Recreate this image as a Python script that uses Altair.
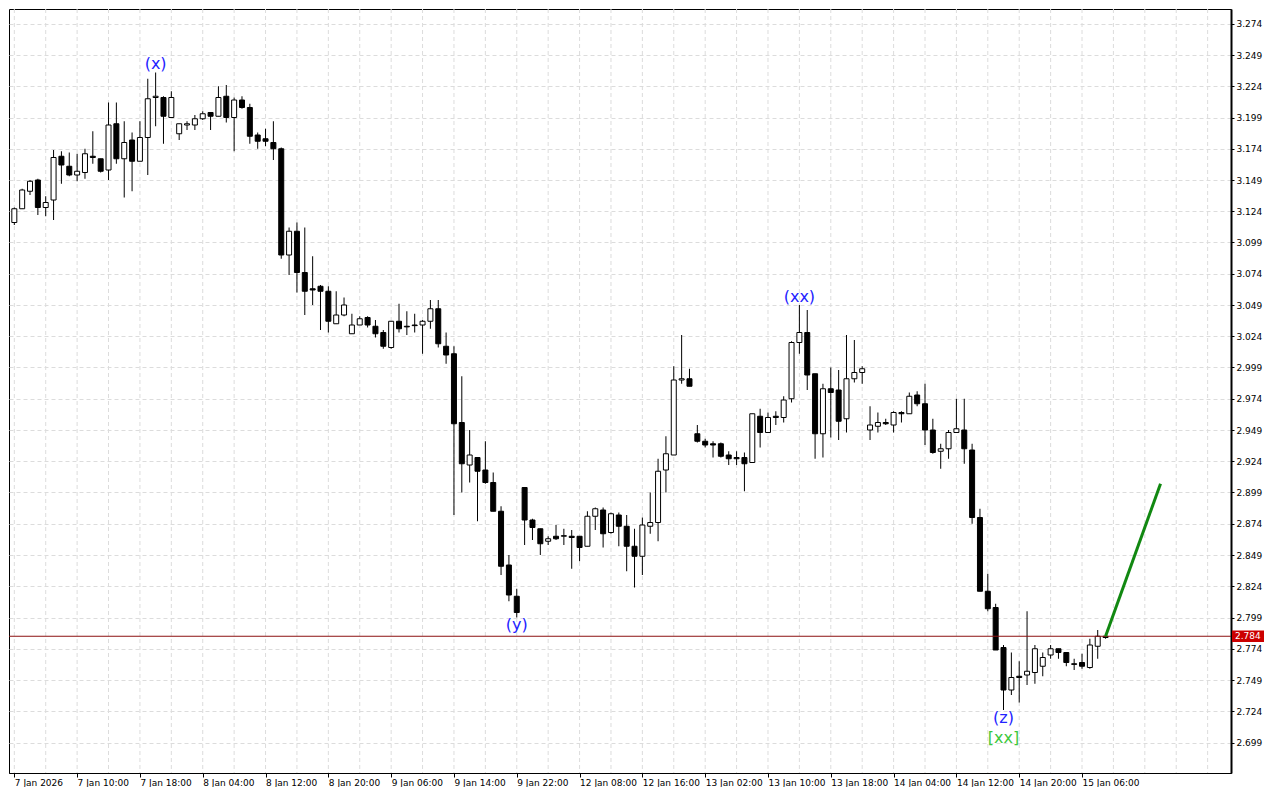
import json
import altair as alt
import pandas as pd

# ---------------- data ----------------
opens = [3.115, 3.126, 3.140, 3.149, 3.127, 3.133, 3.168, 3.160, 3.153, 3.155,
         3.168, 3.166, 3.157, 3.194, 3.166, 3.181, 3.164, 3.183, 3.215, 3.215,
         3.199, 3.186, 3.193, 3.193, 3.198, 3.203, 3.200, 3.216, 3.199, 3.213,
         3.207, 3.185, 3.182, 3.179, 3.174, 3.089, 3.108, 3.075, 3.062, 3.064,
         3.060, 3.034, 3.041, 3.026, 3.033, 3.039, 3.032, 3.027, 3.015, 3.036,
         3.032, 3.033, 3.033, 3.036, 3.046, 3.016, 3.010, 2.955, 2.921, 2.927,
         2.917, 2.907, 2.884, 2.841, 2.816, 2.903, 2.877, 2.870, 2.860, 2.864,
         2.864, 2.864, 2.864, 2.856, 2.880, 2.885, 2.867, 2.881, 2.872, 2.856,
         2.848, 2.872, 2.875, 2.917, 2.929, 2.989, 2.990, 2.946, 2.940, 2.938,
         2.938, 2.929, 2.927, 2.927, 2.923, 2.960, 2.947, 2.960, 2.959, 2.974,
         3.019, 3.027, 2.994, 2.946, 2.982, 2.981, 2.958, 2.990, 2.995, 2.949,
         2.952, 2.955, 2.953, 2.963, 2.962, 2.977, 2.970, 2.949, 2.932, 2.934,
         2.947, 2.949, 2.933, 2.879, 2.820, 2.807, 2.775, 2.741, 2.752, 2.753,
         2.755, 2.760, 2.769, 2.774, 2.771, 2.762, 2.763, 2.759, 2.776, 2.783]
highs = [3.127, 3.142, 3.149, 3.150, 3.136, 3.173, 3.172, 3.171, 3.170, 3.174,
         3.188, 3.166, 3.211, 3.211, 3.196, 3.187, 3.196, 3.230, 3.235, 3.216,
         3.220, 3.194, 3.196, 3.201, 3.204, 3.203, 3.224, 3.225, 3.215, 3.216,
         3.210, 3.187, 3.190, 3.196, 3.175, 3.111, 3.115, 3.111, 3.088, 3.065,
         3.064, 3.060, 3.055, 3.042, 3.040, 3.040, 3.037, 3.029, 3.036, 3.050,
         3.044, 3.042, 3.037, 3.053, 3.053, 3.027, 3.016, 2.992, 2.949, 2.927,
         2.940, 2.915, 2.888, 2.849, 2.822, 2.903, 2.878, 2.870, 2.864, 2.873,
         2.870, 2.869, 2.864, 2.884, 2.887, 2.887, 2.883, 2.883, 2.881, 2.870,
         2.879, 2.899, 2.926, 2.944, 3.000, 3.025, 2.998, 2.953, 2.942, 2.940,
         2.939, 2.932, 2.932, 2.931, 2.962, 2.966, 2.963, 2.964, 2.976, 3.020,
         3.049, 3.045, 2.994, 2.986, 2.999, 2.997, 3.025, 3.021, 3.000, 2.968,
         2.963, 2.958, 2.964, 2.964, 2.979, 2.980, 2.986, 2.958, 2.938, 2.949,
         2.974, 2.974, 2.938, 2.886, 2.834, 2.810, 2.777, 2.771, 2.764, 2.804,
         2.777, 2.771, 2.777, 2.774, 2.771, 2.766, 2.770, 2.782, 2.789, 2.785]
lows = [3.113, 3.126, 3.137, 3.121, 3.120, 3.117, 3.146, 3.152, 3.148, 3.150,
        3.162, 3.155, 3.149, 3.162, 3.135, 3.140, 3.164, 3.153, 3.192, 3.178,
        3.199, 3.181, 3.189, 3.189, 3.197, 3.189, 3.200, 3.195, 3.172, 3.206,
        3.178, 3.174, 3.176, 3.165, 3.086, 3.073, 3.059, 3.041, 3.049, 3.029,
        3.027, 3.034, 3.040, 3.026, 3.033, 3.031, 3.023, 3.014, 3.014, 3.027,
        3.025, 3.027, 3.010, 3.030, 3.015, 3.002, 2.881, 2.899, 2.907, 2.876,
        2.906, 2.884, 2.833, 2.812, 2.799, 2.857, 2.861, 2.849, 2.857, 2.861,
        2.857, 2.838, 2.844, 2.856, 2.869, 2.855, 2.866, 2.856, 2.836, 2.823,
        2.833, 2.866, 2.860, 2.899, 2.929, 2.986, 2.984, 2.939, 2.935, 2.927,
        2.927, 2.921, 2.921, 2.900, 2.923, 2.935, 2.947, 2.953, 2.955, 2.971,
        3.010, 2.981, 2.926, 2.927, 2.943, 2.941, 2.947, 2.987, 2.986, 2.941,
        2.947, 2.953, 2.947, 2.955, 2.962, 2.968, 2.937, 2.930, 2.918, 2.926,
        2.947, 2.922, 2.874, 2.820, 2.804, 2.773, 2.725, 2.737, 2.731, 2.745,
        2.746, 2.752, 2.766, 2.766, 2.760, 2.757, 2.758, 2.758, 2.766, 2.782]
closes = [3.126, 3.141, 3.148, 3.127, 3.131, 3.167, 3.161, 3.153, 3.156, 3.170,
          3.167, 3.156, 3.193, 3.166, 3.179, 3.164, 3.183, 3.214, 3.216, 3.200,
          3.215, 3.194, 3.194, 3.198, 3.202, 3.200, 3.215, 3.199, 3.213, 3.207,
          3.184, 3.180, 3.180, 3.174, 3.089, 3.108, 3.075, 3.060, 3.061, 3.060,
          3.036, 3.041, 3.049, 3.033, 3.038, 3.033, 3.026, 3.016, 3.036, 3.030,
          3.0315, 3.0325, 3.036, 3.046, 3.018, 3.009, 2.954, 2.922, 2.929, 2.916,
          2.907, 2.884, 2.840, 2.817, 2.803, 2.877, 2.871, 2.858, 2.862, 2.862,
          2.8645, 2.863, 2.855, 2.880, 2.886, 2.866, 2.882, 2.872, 2.856, 2.848,
          2.873, 2.875, 2.916, 2.930, 2.989, 2.990, 2.984, 2.940, 2.937, 2.937,
          2.928, 2.926, 2.926, 2.922, 2.962, 2.947, 2.959, 2.959, 2.973, 3.019,
          3.027, 2.993, 2.946, 2.982, 2.979, 2.956, 2.990, 2.995, 2.998, 2.953,
          2.955, 2.954, 2.963, 2.962, 2.976, 2.970, 2.949, 2.931, 2.934, 2.947,
          2.950, 2.934, 2.879, 2.820, 2.806, 2.773, 2.741, 2.751, 2.751, 2.756,
          2.774, 2.767, 2.774, 2.771, 2.763, 2.7615, 2.760, 2.777, 2.784, 2.784]

tick_labels = ["7 Jan 2026", "7 Jan 10:00", "7 Jan 18:00", "8 Jan 04:00", "8 Jan 12:00",
               "8 Jan 20:00", "9 Jan 06:00", "9 Jan 14:00", "9 Jan 22:00", "12 Jan 08:00",
               "12 Jan 16:00", "13 Jan 02:00", "13 Jan 10:00", "13 Jan 18:00", "14 Jan 04:00",
               "14 Jan 12:00", "14 Jan 20:00", "15 Jan 06:00"]
price_ticks = [round(2.699 + 0.025 * k, 3) for k in range(24)]

current_price = 2.784
forecast_idx = [139, 146]
forecast_price = [2.784, 2.906]

ann_text = ["(x)", "(xx)", "(y)", "(z)", "[xx]"]
ann_idx = [18, 100, 64, 126, 126]
ann_price = [3.2417, 3.0558, 2.7927, 2.7187, 2.7029]
ann_color = ["#2323ff", "#2323ff", "#2323ff", "#2323ff", "#3cc83c"]

# ---------------- chart ----------------
W, H = 1222, 764
x_dom = [-0.04, 154.34]
y_dom = [2.6746, 3.2858]

df = pd.DataFrame({"i": list(range(len(opens))), "open": opens, "high": highs,
                   "low": lows, "close": closes})

xs = alt.Scale(domain=x_dom, nice=False, zero=False)
ys = alt.Scale(domain=y_dom, nice=False, zero=False)

label_expr = json.dumps(tick_labels) + "[round(datum.value / 8)]"

x_axis = alt.Axis(values=[8 * k for k in range(len(tick_labels))], labelExpr=label_expr,
                  labelAlign="left", labelFont="DejaVu Sans", labelFontSize=9,
                  labelColor="black", tickColor="black", tickSize=4, labelPadding=1,
                  domainColor="black", grid=False, title=None, labelOverlap=False,
                  labelFlush=False, labelBound=False)
y_axis = alt.Axis(orient="right", values=price_ticks, format=".3f",
                  labelFont="DejaVu Sans", labelFontSize=9, labelColor="black",
                  tickColor="black", tickSize=3, labelPadding=2, domainColor="black",
                  domainWidth=2, grid=True, gridDash=[4, 3], gridColor="#dcdcdc",
                  title=None, labelOverlap=False, labelFlush=False, labelBound=False)


def X(field):
    return alt.X(field, scale=xs, axis=x_axis, title=None)


def Y(field):
    return alt.Y(field, scale=ys, axis=y_axis, title=None)


base = alt.Chart(df)

grid_df = pd.DataFrame({"g": list(range(0, 155, 4))})
vgrid = alt.Chart(grid_df).mark_rule(color="#dcdcdc", strokeDash=[4, 3], strokeWidth=1).encode(
    x=X("g:Q")
)

wicks = base.mark_rule(color="black", strokeWidth=1, clip=True).encode(
    x=X("i:Q"), y=Y("low:Q"), y2="high:Q",
)

bodies = base.mark_bar(size=5, stroke="black", strokeWidth=1, clip=True).encode(
    x=X("i:Q"), y=Y("open:Q"), y2="close:Q",
    fill=alt.condition("datum.open > datum.close", alt.value("black"), alt.value("white")),
)

cur_df = pd.DataFrame({"p": [current_price], "t": [f"{current_price:.3f}"]})
cur_line = alt.Chart(cur_df).mark_rule(color="#8c1010", strokeWidth=1).encode(y=Y("p:Q"))
cur_box = alt.Chart(cur_df).transform_calculate(
    top="datum.p + 0.0046", bot="datum.p - 0.0046"
).mark_rect(color="#cc0000").encode(
    x=alt.value(W + 1), x2=alt.value(W + 33), y=Y("top:Q"), y2="bot:Q",
)
cur_text = alt.Chart(cur_df).mark_text(color="white", align="left", baseline="middle",
                                       font="DejaVu Sans", fontSize=9).encode(
    x=alt.value(W + 4), y=Y("p:Q"), text="t:N"
)

fc_df = pd.DataFrame({"i": forecast_idx, "p": forecast_price})
forecast = alt.Chart(fc_df).mark_line(color="#118811", strokeWidth=3).encode(
    x=X("i:Q"), y=Y("p:Q")
)

ann_df = pd.DataFrame({"i": ann_idx, "p": ann_price, "t": ann_text, "c": ann_color})
ann = alt.Chart(ann_df).mark_text(font="DejaVu Sans", fontSize=16, baseline="middle",
                                  align="center").encode(
    x=X("i:Q"), y=Y("p:Q"), text="t:N", color=alt.Color("c:N", scale=None)
)

chart = alt.layer(vgrid, wicks, bodies, cur_line, forecast, ann, cur_box, cur_text).properties(
    width=W, height=H, padding=0, background="white"
).configure_view(stroke="black", strokeWidth=1)

chart.save("out.html", embed_options={"renderer": "svg", "actions": False})
